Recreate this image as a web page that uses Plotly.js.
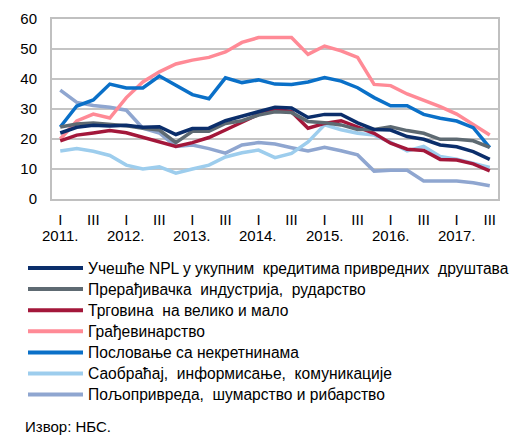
<!DOCTYPE html>
<html>
<head>
<meta charset="utf-8">
<script src="https://cdn.plot.ly/plotly-3.0.1.min.js"></script>
<style>
  body { margin: 0; background: #fff; }
  #plotMap { width: 514px; height: 437px; }
</style>
</head>
<body>
<div id="plotMap"></div>
<script>
// quarters 2011 Q1 .. 2017 Q3
var quarters = ['2011Q1','2011Q2','2011Q3','2011Q4','2012Q1','2012Q2','2012Q3','2012Q4',
  '2013Q1','2013Q2','2013Q3','2013Q4','2014Q1','2014Q2','2014Q3','2014Q4',
  '2015Q1','2015Q2','2015Q3','2015Q4','2016Q1','2016Q2','2016Q3','2016Q4',
  '2017Q1','2017Q2','2017Q3'];

var tickVals = ['2011Q1','2011Q3','2012Q1','2012Q3','2013Q1','2013Q3','2014Q1','2014Q3',
  '2015Q1','2015Q3','2016Q1','2016Q3','2017Q1','2017Q3'];
var tickText = ['I','III','I','III','I','III','I','III','I','III','I','III','I','III'];
var yearVals = ['2011Q1','2012Q1','2013Q1','2014Q1','2015Q1','2016Q1','2017Q1'];
var yearText = ['2011.','2012.','2013.','2014.','2015.','2016.','2017.'];

var npl = [22, 23.9, 24.6, 24.3, 24.6, 23.9, 24.1, 21.5, 23.5, 23.6, 26.1, 27.6, 29.3, 30.6,
  30.3, 27.2, 28.2, 28.2, 25.4, 23.2, 23, 20.8, 19.9, 18, 17.4, 15.8, 13.2];
var manufacturing = [24, 25, 25.3, 24.8, 24.4, 23.6, 23, 18.8, 22.6, 22.6, 25.2, 26.1, 28, 29.1,
  28.8, 25.8, 25.4, 24.7, 23.2, 23.2, 24.1, 22.8, 21.9, 19.9, 19.9, 19.4, 17.2];
var trade = [19.4, 21.3, 22, 22.8, 22.1, 20.6, 19.1, 17.5, 18.8, 20.5, 23, 25.6, 28.2, 30,
  29.1, 23.6, 25.2, 26.1, 24.1, 21.9, 18.6, 16.6, 16.2, 13.2, 13, 11.7, 9.4];
var construction = [20, 26, 28.3, 27, 33.8, 39, 42.4, 45, 46.3, 47.2, 49, 52.2, 53.8, 53.8,
  53.8, 48.2, 51, 49.4, 47.2, 38.2, 37.8, 35, 33, 30.8, 28.3, 24.7, 21.3];
var realEstate = [24, 31, 33, 38.3, 37, 37, 41, 37.8, 34.8, 33.4, 40.4, 38.8, 39.7, 38.3,
  38.2, 39, 40.5, 39.3, 37.1, 33.8, 31.1, 31.1, 28.2, 26.9, 26, 23.8, 17.1];
var transport = [16, 16.8, 15.9, 14.5, 11.3, 10, 10.7, 8.6, 10, 11.3, 14, 15.4, 16.3, 13.8,
  15.2, 19, 24.7, 23.1, 21.9, 21.3, 18.9, 16, 17.5, 14.2, 13.3, 12, 10.5];
var agriculture = [36.3, 32.2, 31.2, 30.6, 29.6, 23.6, 22, 17.5, 18, 16.8, 15.3, 18, 18.8, 18.3,
  17.1, 16, 17.2, 16.1, 14.7, 9.3, 9.6, 9.6, 6, 6, 6, 5.4, 4.4];

var names = ['Учешће NPL у укупним  кредитима привредних  друштава',
  'Прерађивачка  индустрија,  рударство',
  'Трговина  на велико и мало',
  'Грађевинарство',
  'Пословање са некретнинама',
  'Саобраћај,  информисање,  комуникације',
  'Пољопривреда,  шумарство и рибарство'];
var colors = ['#0B2E6B', '#5E6A72', '#A3173A', '#FF8A96', '#0A70C8', '#9DCDED', '#8FA6D0'];
var series = [npl, manufacturing, trade, construction, realEstate, transport, agriculture];

// draw order: back to front
var order = [6, 5, 3, 4, 2, 1, 0];
var data = order.map(function (i) {
  return {
    x: quarters, y: series[i], name: names[i],
    mode: 'lines', type: 'scatter',
    line: {color: colors[i], width: 3.5},
    showlegend: false
  };
});

// legend drawn by hand so the sample lines are long like in the original
var shapes = [], annotations = [];
var pw = 446, ph = 180;
names.forEach(function (n, i) {
  var py = 268 + i * 21.1;
  var yy = (199 - py) / ph;
  shapes.push({type: 'line', xref: 'paper', yref: 'paper',
    x0: (28 - 52) / pw, x1: (83 - 52) / pw, y0: yy, y1: yy,
    line: {color: colors[i], width: 4}});
  annotations.push({xref: 'paper', yref: 'paper', x: (86 - 52) / pw, y: yy,
    xanchor: 'left', yanchor: 'middle', text: n, showarrow: false,
    font: {size: 15.6, color: '#000'}});
});
yearVals.forEach(function (q, i) {
  annotations.push({xref: 'x', yref: 'paper', x: q, y: (199 - 235) / ph,
    xanchor: 'center', yanchor: 'middle', text: yearText[i], showarrow: false,
    font: {size: 15, color: '#000'}});
});
annotations.push({xref: 'paper', yref: 'paper', x: (23 - 52) / pw, y: (199 - 426) / ph,
  xanchor: 'left', yanchor: 'middle', text: 'Извор: НБС.', showarrow: false,
  font: {size: 15, color: '#000'}});

var layout = {
  width: 514, height: 437,
  margin: {l: 52, r: 16, t: 19, b: 238},
  paper_bgcolor: '#fff', plot_bgcolor: '#fff',
  font: {family: 'Liberation Sans, Arial, sans-serif', size: 15, color: '#000'},
  showlegend: false,
  xaxis: {
    type: 'category', categoryorder: 'array', categoryarray: quarters,
    range: [-0.5, 26.5], tickvals: tickVals, ticktext: tickText,
    ticks: '', showgrid: false, zeroline: false,
    showline: true, mirror: true, linecolor: '#C0C0C0', linewidth: 2,
    ticklabelstandoff: 6, fixedrange: true
  },
  yaxis: {
    range: [0, 60], dtick: 10, ticks: '', showgrid: true, gridcolor: '#C4C4C4', gridwidth: 2,
    zeroline: false, showline: true, mirror: true, linecolor: '#C0C0C0', linewidth: 2,
    ticklabelstandoff: 10, fixedrange: true
  },
  shapes: shapes,
  annotations: annotations
};

Plotly.newPlot('plotMap', data, layout, {displayModeBar: false, staticPlot: true});
</script>
</body>
</html>
